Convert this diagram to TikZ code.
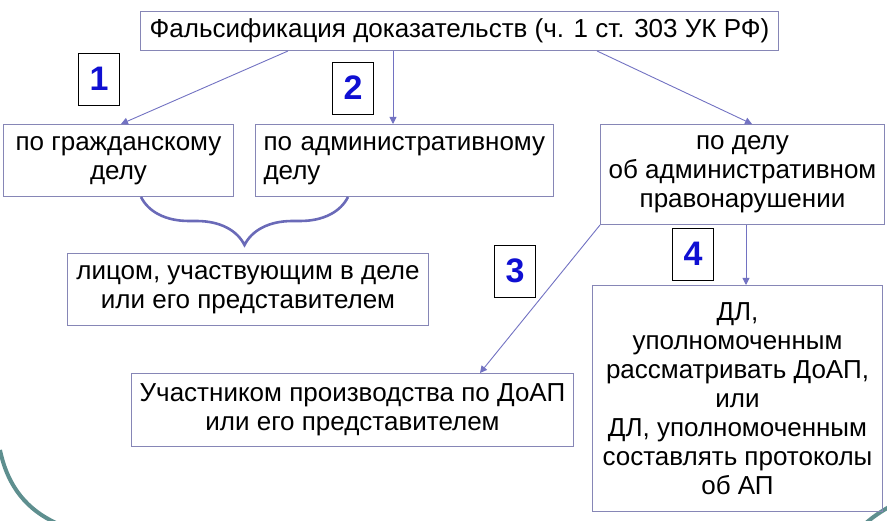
\documentclass[tikz,border=0pt]{standalone}
\usepackage{fontspec}
\setmainfont{Liberation Sans}
\usepackage{tikz}
\usetikzlibrary{arrows.meta, positioning, decorations.pathreplacing}
\definecolor{boxline}{HTML}{8686B6}
\definecolor{arrowline}{HTML}{7272C2}
\definecolor{bracecol}{HTML}{6A6AB8}
\definecolor{numblue}{HTML}{0F0FD2}
\definecolor{slideteal}{HTML}{5E8F8F}
\tikzstyle{casebox} = [draw=boxline, line width=1pt, rectangle, inner sep=0pt, anchor=north west, align=center, font=\fontsize{26}{29}\selectfont]
\tikzstyle{numbox} = [draw=black, line width=0.8pt, rectangle, minimum width=41pt, minimum height=52pt, inner sep=0pt, font=\fontsize{34}{34}\selectfont\bfseries, text=numblue]
\tikzstyle{arrw} = [line width=0.9pt, -{Triangle[length=7pt, width=7pt]}, color=arrowline]
\tikzstyle{bracew} = [line width=2.6pt, color=bracecol, decorate, decoration={brace, amplitude=48pt}]

\begin{document}
\begin{tikzpicture}[x=1pt, y=-1pt]
    \useasboundingbox (0,0) rectangle (887,521);
    % slide corners
    \draw [slideteal, line width=4pt] (0,450) .. controls (8,488) and (28,510) .. (56,523);
    \draw [slideteal, line width=4pt] (866,523) .. controls (874,516) and (882,511) .. (889,507);

    \node (top) [casebox, minimum width=638pt, minimum height=39pt] at (140,11) {Фальсификация доказательств (ч. 1 ст. 303 УК РФ)};
    \node (civ) [casebox, minimum width=230pt, minimum height=72pt] at (3,124) {по гражданскому\\делу};
    \node (adm) [casebox, minimum width=298pt, minimum height=72pt, inner xsep=8pt, text width=282pt, align=left] at (255,124) {по административному\\делу};
    \node (offence) [casebox, minimum width=284pt, minimum height=100pt] at (600,124) {по делу\\об административном\\правонарушении};
    \node (party) [casebox, minimum width=361pt, minimum height=72pt] at (67,253) {лицом, участвующим в деле\\или его представителем};
    \node (member) [casebox, minimum width=442pt, minimum height=73pt] at (131,373) {Участником производства по ДоАП\\или его представителем};
    \node (official) [casebox, minimum width=290pt, minimum height=226pt] at (592,285) {ДЛ,\\уполномоченным\\рассматривать ДоАП,\\или\\ДЛ, уполномоченным\\составлять протоколы\\об АП};

    \node (n1) [numbox] at (99,79) {1};
    \node (n2) [numbox] at (353,88) {2};
    \node (n3) [numbox] at (515,271) {3};
    \node (n4) [numbox] at (693,254) {4};

    \draw [arrw] ([xshift=148pt]top.south west) -- ([xshift=118pt]civ.north west);
    \draw [arrw] ([xshift=253pt]top.south west) -- ([xshift=138pt]adm.north west);
    \draw [arrw] ([xshift=457pt]top.south west) -- ([xshift=152pt]offence.north west);
    \draw [arrw] (offence.south west) -- ([xshift=349pt]member.north west);
    \draw [arrw] ([xshift=146pt]offence.south west) -- ([xshift=154pt]official.north west);

    % brace under the two cases
    \draw [bracew] ([xshift=93pt]adm.south west) -- ([xshift=138pt]civ.south west);
\end{tikzpicture}
\end{document}
